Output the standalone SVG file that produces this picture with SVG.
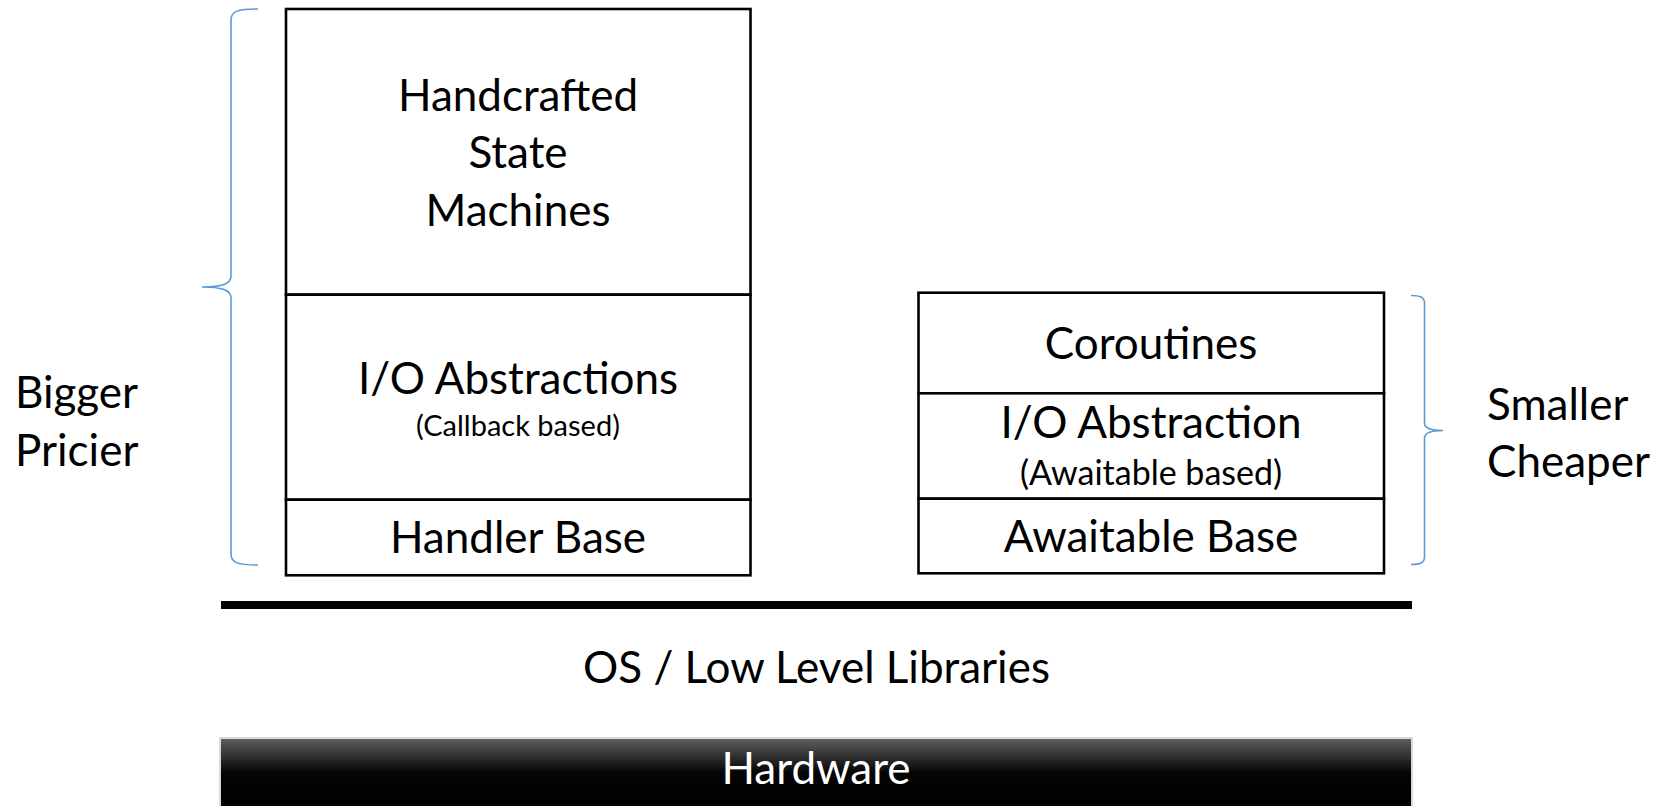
<svg xmlns="http://www.w3.org/2000/svg" width="1667" height="806" viewBox="0 0 1667 806">
  <style>
    .box { fill: #ffffff; stroke: #000000; stroke-width: 2.6; }
    .brace { fill: none; stroke: #5b9bd5; stroke-width: 1.6; }
    .t { font-family: Lato, "Open Sans", "Liberation Sans", sans-serif; fill: #000000; text-anchor: middle; }
    .big { font-size: 44px; }
    .small { font-size: 29px; }
    .mid { font-size: 34px; }
    .side { font-family: Lato, "Open Sans", "Liberation Sans", sans-serif; font-size: 44px; fill: #000000; }
  </style>
  <defs>
    <linearGradient id="hwFill" x1="0" y1="0" x2="0" y2="1">
      <stop offset="0" stop-color="#5e5e5e"/>
      <stop offset="0.5" stop-color="#050505"/>
      <stop offset="1" stop-color="#000000"/>
    </linearGradient>
  </defs>
  <rect width="1667" height="806" fill="#ffffff"/>

  <!-- left stack: callback based design -->
  <g id="handcrafted-state-machines">
    <rect class="box" x="286" y="9" width="464.5" height="285.7"/>
    <text class="t big" x="518" y="111">Handcrafted</text>
    <text class="t big" x="518" y="168">State</text>
    <text class="t big" x="518" y="226">Machines</text>
  </g>
  <g id="io-abstractions-callback">
    <rect class="box" x="286" y="294.7" width="464.5" height="205"/>
    <text class="t big" x="518" y="394">I/O Abstractions</text>
    <text class="t small" x="518" y="436">(Callback based)</text>
  </g>
  <g id="handler-base">
    <rect class="box" x="286" y="499.7" width="464.5" height="75.6"/>
    <text class="t big" x="518" y="553">Handler Base</text>
  </g>

  <!-- right stack: coroutine based design -->
  <g id="coroutines">
    <rect class="box" x="918.5" y="292.7" width="465.5" height="100.6"/>
    <text class="t big" x="1151" y="359">Coroutines</text>
  </g>
  <g id="io-abstraction-awaitable">
    <rect class="box" x="918.5" y="393.3" width="465.5" height="105.4"/>
    <text class="t big" x="1151" y="438">I/O Abstraction</text>
    <text class="t mid" x="1151" y="485">(Awaitable based)</text>
  </g>
  <g id="awaitable-base">
    <rect class="box" x="918.5" y="498.7" width="465.5" height="74.6"/>
    <text class="t big" x="1151" y="552">Awaitable Base</text>
  </g>

  <!-- size braces and their captions -->
  <g id="left-brace">
    <path class="brace" d="M258,9 C238,9 231,11 231,20 L231,276 C231,284 222,287 202,287 C222,287 231,290 231,298 L231,554 C231,563 238,565 258,565"/>
  </g>
  <g id="bigger-pricier">
    <text class="side" x="15" y="408">Bigger</text>
    <text class="side" x="15" y="466">Pricier</text>
  </g>
  <g id="right-brace">
    <path class="brace" d="M1411,295.5 C1420,295.5 1424.5,297 1424.5,303 L1424.5,423 C1424.5,428 1430,430.5 1443,430.5 C1430,430.5 1424.5,433 1424.5,438 L1424.5,557 C1424.5,563 1420,564.5 1411,564.5"/>
  </g>
  <g id="smaller-cheaper">
    <text class="side" x="1487" y="420">Smaller</text>
    <text class="side" x="1487" y="477">Cheaper</text>
  </g>

  <!-- platform layers -->
  <g id="os-layer">
    <rect x="221" y="601" width="1191" height="8" fill="#000000"/>
    <text class="t big" x="816.5" y="683">OS / Low Level Libraries</text>
  </g>
  <g id="hardware">
    <rect x="219" y="737" width="1194" height="70" fill="#d9d9d9"/>
    <rect x="221" y="739" width="1190" height="67" fill="url(#hwFill)"/>
    <text class="t big" x="816" y="784" fill="#ffffff" style="fill:#ffffff">Hardware</text>
  </g>
</svg>
